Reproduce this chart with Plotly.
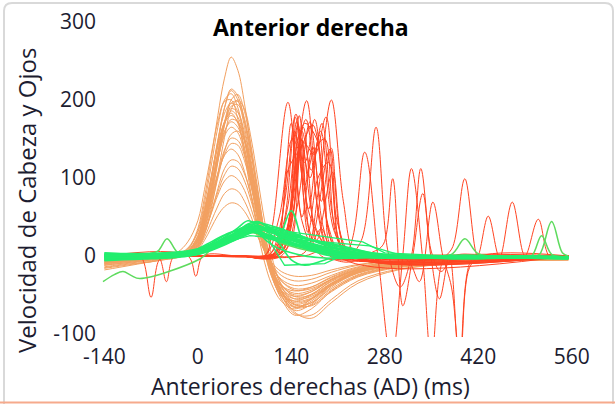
import plotly.graph_objects as go

# ---------------- data ----------------
x_ticks = [-140, 0, 140, 280, 420, 560]
y_ticks = [-100, 0, 100, 200, 300]

# head velocity (orange) – common time base
t_head = [-140, -100, -60, -30, -15, 0, 10, 20, 30, 40, 50, 60, 70, 80, 90, 100,
          110, 125, 145, 170, 200, 240, 300, 380, 470, 555]
head_01 = [-8, -5, -3, 2, 8, 35, 75, 125, 180, 228, 255, 238, 195, 135, 72, 18, -22, -55, -76, -68, -45, -25, -14, -9, -6, -5]
head_02 = [-12, -8, -4, 0, 5, 22, 52, 95, 145, 190, 212, 200, 165, 115, 62, 15, -20, -50, -70, -62, -40, -22, -12, -8, -6, -4]
head_03 = [-4, -2, 0, 1, 3, 12, 35, 72, 120, 168, 200, 207, 185, 140, 85, 30, -10, -45, -65, -60, -38, -20, -10, -7, -5, -3]
head_04 = [-15, -10, -6, 5, 18, 45, 85, 130, 172, 198, 200, 175, 130, 78, 30, -8, -35, -58, -68, -55, -35, -20, -12, -8, -6, -5]
head_05 = [-6, -4, -2, 1, 6, 25, 58, 100, 148, 183, 196, 185, 152, 105, 55, 10, -22, -48, -62, -56, -36, -19, -11, -7, -4, -3]
head_06 = [-10, -6, -3, 0, 4, 18, 45, 85, 132, 172, 189, 184, 158, 115, 65, 20, -15, -44, -63, -60, -42, -24, -13, -8, -6, -5]
head_07 = [-3, -2, -1, 2, 9, 30, 62, 102, 143, 172, 183, 170, 138, 92, 45, 5, -25, -50, -58, -50, -32, -18, -10, -6, -4, -3]
head_08 = [-18, -12, -6, -2, 3, 15, 40, 78, 122, 158, 175, 172, 150, 110, 62, 18, -14, -40, -55, -52, -36, -21, -12, -8, -5, -4]
head_09 = [-5, -3, -1, 1, 5, 20, 48, 85, 124, 154, 165, 158, 132, 92, 48, 10, -18, -42, -52, -46, -30, -17, -9, -6, -4, -3]
head_10 = [-8, -5, -2, 1, 4, 14, 36, 68, 105, 136, 151, 148, 128, 92, 52, 14, -14, -38, -50, -46, -31, -18, -10, -6, -4, -3]
head_11 = [-4, -2, 0, 2, 6, 20, 44, 75, 106, 129, 137, 130, 108, 75, 38, 6, -18, -38, -45, -40, -27, -15, -8, -5, -3, -2]
head_12 = [-12, -8, -4, -1, 2, 10, 28, 55, 86, 112, 123, 121, 105, 78, 45, 14, -10, -32, -44, -42, -30, -18, -10, -6, -4, -3]
head_13 = [-6, -4, -2, 0, 3, 12, 30, 54, 78, 96, 103, 98, 84, 60, 33, 8, -12, -30, -38, -35, -25, -14, -8, -5, -3, -2]
head_14 = [-3, -2, -1, 1, 3, 10, 24, 44, 64, 80, 86, 83, 70, 50, 27, 6, -10, -25, -32, -30, -21, -12, -7, -4, -3, -2]
head_15 = [-8, -5, -3, -1, 2, 8, 20, 36, 52, 63, 68, 66, 57, 42, 24, 6, -8, -20, -26, -25, -18, -11, -6, -4, -3, -2]
head_16 = [-5, -3, -1, 1, 4, 16, 40, 78, 125, 168, 192, 194, 172, 130, 80, 30, -8, -45, -72, -80, -60, -35, -18, -10, -6, -4]
head_17 = [-9, -6, -3, 1, 6, 24, 55, 98, 148, 190, 214, 205, 172, 122, 68, 20, -15, -46, -66, -63, -44, -26, -14, -9, -6, -4]
head_18 = [-2, -1, 0, 2, 7, 26, 58, 98, 140, 170, 180, 172, 146, 104, 56, 12, -20, -46, -60, -55, -38, -22, -12, -7, -5, -3]
head_19 = [-7, -4, -2, 3, 10, 32, 68, 115, 165, 200, 208, 190, 150, 100, 50, 8, -25, -52, -66, -58, -38, -21, -11, -7, -5, -4]
head_20 = [-11, -7, -4, -1, 2, 10, 28, 60, 105, 152, 188, 200, 188, 150, 98, 45, 2, -38, -62, -64, -46, -27, -15, -9, -6, -5]
head_21 = [-14, -9, -5, 0, 5, 20, 48, 88, 133, 170, 186, 178, 148, 104, 56, 14, -18, -44, -58, -54, -37, -21, -12, -8, -5, -4]
head_22 = [-3, -2, 0, 2, 6, 22, 52, 90, 130, 160, 172, 165, 138, 96, 50, 10, -20, -44, -55, -49, -33, -19, -10, -6, -4, -3]
head_23 = [-9, -6, -3, 0, 3, 13, 34, 64, 100, 134, 156, 160, 148, 115, 72, 28, -6, -36, -52, -50, -35, -20, -11, -7, -4, -3]
head_24 = [-6, -4, -2, 1, 5, 18, 42, 72, 104, 130, 144, 142, 122, 88, 48, 10, -16, -38, -48, -44, -30, -17, -9, -6, -4, -3]
head_25 = [-10, -6, -3, 0, 3, 13, 32, 56, 82, 104, 115, 112, 96, 70, 40, 10, -12, -32, -42, -40, -28, -16, -9, -5, -3, -2]
head_26 = [-16, -11, -6, -2, 3, 16, 42, 82, 130, 172, 196, 198, 176, 132, 80, 28, -12, -50, -74, -76, -56, -32, -17, -10, -6, -5]

# eye velocity (red saccade traces) – each with its own time base
red_01_t = [-140, -100, -84, -70, -57, -40, 0, 60, 100, 112, 135, 156, 170, 185, 200, 225, 260, 350, 555]
red_01_v = [0, 0, -3, -53, -4, 0, 0, 0, 0, 40, 197, 45, 18, 35, 8, 0, -3, 0, 0]
red_02_t = [-140, -60, 0, 60, 110, 125, 142, 163, 182, 198, 222, 260, 400, 555]
red_02_v = [0, 1, 0, 0, 0, 5, 80, 199, 45, 0, -8, 0, -1, 0]
red_03_t = [-140, -70, -58, -47, -36, -10, 60, 150, 165, 180, 200, 218, 236, 260, 320, 555]
red_03_v = [0, 0, -2, -33, -1, 0, 0, 0, 10, 80, 200, 70, 0, -6, 0, 0]
red_04_t = [-140, 60, 160, 180, 200, 225, 250, 271, 290, 307, 320, 337, 350, 366, 382, 400, 419, 435, 452, 471, 490, 510, 528, 555]
red_04_v = [0, 0, 0, 5, 0, 8, 133, -10, -135, 0, 112, -5, -135, -8, 12, 99, 0, 51, -2, 69, 0, 47, -2, 0]
red_05_t = [-140, 60, 120, 138, 155, 175, 200, 225, 245, 267, 285, 303, 320, 334, 349, 362, 377, 392, 410, 430, 470, 555]
red_05_v = [0, 0, 0, 30, 150, 40, 5, 0, 20, 165, 5, -40, 0, 112, 0, -55, 0, -135, -5, 0, -1, 0]
red_06_t = [-140, 0, 100, 130, 146, 165, 185, 215, 240, 262, 278, 292, 307, 322, 337, 350, 364, 385, 420, 555]
red_06_v = [0, 0, 0, 10, 178, 40, 0, -5, 0, 5, 15, 99, -64, 0, 80, 5, -20, 0, 2, 0]
red_07_t = [-140, -15, -3, 8, 60, 100, 118, 135, 152, 170, 198, 216, 240, 270, 300, 317, 332, 352, 367, 380, 393, 407, 425, 555]
red_07_v = [0, 0, -26, 0, 0, 0, 5, 30, 180, 20, 137, 5, -6, 0, 0, -8, -33, 69, 0, -40, -135, -15, 0, 0]
red_08_t = [-140, 60, 105, 128, 145, 160, 172, 187, 202, 222, 250, 555]
red_08_v = [0, 0, 0, 40, 160, 90, 140, 40, 5, 0, -4, 0]
red_09_t = [-140, 60, 110, 138, 158, 178, 202, 222, 250, 555]
red_09_v = [0, 0, 0, 40, 165, 20, 107, 5, 0, 0]
red_10_t = [-140, 60, 100, 122, 142, 160, 175, 192, 210, 235, 555]
red_10_v = [0, 0, 0, 50, 150, 120, 175, 50, 0, -5, 0]
red_11_t = [-140, 60, 115, 140, 160, 178, 195, 215, 240, 555]
red_11_v = [0, 0, 0, 60, 170, 150, 40, 0, -3, 0]
red_12_t = [-140, 60, 108, 130, 148, 165, 180, 196, 215, 240, 555]
red_12_v = [0, 0, 0, 20, 172, 30, 100, 120, 10, 0, 0]
red_13_t = [-140, 60, 112, 134, 150, 166, 182, 200, 225, 555]
red_13_v = [0, 0, 0, 60, 168, 60, 155, 20, 0, 0]
red_14_t = [-140, 60, 120, 142, 156, 170, 186, 205, 230, 555]
red_14_v = [0, 0, 0, 50, 160, 110, 170, 40, 0, 0]
red_15_t = [-140, 60, 110, 132, 147, 162, 180, 200, 225, 555]
red_15_v = [0, 0, 0, 30, 120, 175, 60, 0, -6, 0]
red_16_t = [-140, 60, 115, 136, 152, 168, 184, 205, 230, 555]
red_16_v = [0, 0, 0, 40, 155, 100, 160, 30, 0, 0]
red_17_t = [-140, 60, 105, 125, 140, 156, 172, 190, 210, 240, 555]
red_17_v = [0, 0, 0, 45, 170, 50, 130, 150, 20, -4, 0]
red_18_t = [-140, 60, 118, 140, 158, 175, 192, 210, 235, 555]
red_18_v = [0, 0, 0, 20, 145, 130, 178, 40, 0, 0]
red_19_t = [-140, 60, 110, 130, 147, 165, 185, 205, 555]
red_19_v = [0, 0, 0, 70, 182, 60, 20, 0, 0]
red_20_t = [-140, 60, 125, 148, 168, 185, 200, 220, 250, 555]
red_20_v = [0, 0, 0, 60, 172, 70, 138, 10, -5, 0]
red_21_t = [-140, 60, 112, 135, 155, 172, 190, 210, 555]
red_21_v = [0, 0, 0, 110, 140, 168, 80, 0, 0]

# eye velocity (green) – common time base
t_eye = [-140, -110, -80, -50, -20, 0, 20, 40, 60, 75, 90, 105, 120, 140, 160, 180,
         200, 230, 260, 300, 350, 400, 450, 500, 555]
eye_01 = [-2, -1, 0, 1, 2, 5, 12, 20, 30, 40, 38, 32, 28, 22, 16, 11, 6, 2, 0, -1, -2, -1, -2, -2, -3]
eye_02 = [0, 1, -1, 2, 3, 6, 14, 24, 36, 45, 40, 30, 22, 16, 12, 8, 4, 1, -1, -2, -1, -2, -1, -2, -2]
eye_03 = [-5, -4, -3, -2, 0, 3, 9, 16, 26, 33, 36, 34, 30, 26, 22, 18, 14, 8, 3, 0, -1, -2, -2, -3, -3]
eye_04 = [2, 2, 1, 3, 5, 8, 16, 26, 34, 38, 30, 18, 10, 4, 0, -2, -3, -3, -2, -2, -2, -1, -1, -1, -2]
eye_05 = [-3, -2, -2, 0, 1, 4, 10, 18, 28, 36, 42, 40, 36, 30, 24, 18, 12, 6, 2, 0, -1, -1, -2, -2, -2]
eye_06 = [1, 0, 1, 1, 3, 7, 13, 21, 29, 34, 33, 26, 18, -5, -12, -8, -3, -1, -1, -2, -2, -3, -2, -2, -3]
eye_07 = [-1, -1, 0, 2, 4, 9, 18, 27, 33, 37, 35, 31, 28, 25, 22, 19, 16, 10, 4, 0, -2, -2, -1, -2, -2]
eye_08 = [0, 0, -1, 0, 2, 5, 10, 17, 25, 30, 31, 27, 22, 17, 13, 9, 5, 2, 0, -1, -1, -1, -2, -1, -1]
eye_09 = [-2, -1, -1, 1, 2, 5, 11, 19, 27, 33, 30, 22, 22, 58, 14, 4, 0, -2, -2, -2, -1, -2, -2, -2, -2]
eye_10 = [-4, -3, -2, -1, 1, 4, 9, 15, 22, 28, 32, 33, 31, 27, 23, 19, 15, 9, 4, 1, -1, -2, -2, -2, -3]
eye_11 = [3, 2, 2, 3, 4, 7, 12, 19, 26, 31, 29, 24, 19, 14, 10, 6, 3, 0, -1, -1, -2, -2, -1, -2, -2]
eye_12 = [-1, 0, 0, 1, 3, 6, 13, 22, 32, 41, 44, 36, 26, 18, 12, 7, 3, 0, -2, -2, -2, -1, -2, -2, -2]
eye_13 = [1, 2, 1, 2, 4, 7, 14, 23, 31, 36, 37, 33, 27, 20, 14, 9, 5, 1, -1, -2, -3, -2, -3, -3, -4]
eye_14 = [-3, -3, -2, -1, 0, 2, 7, 14, 22, 28, 34, 36, 33, 28, 23, 17, 11, 5, 1, -1, -1, -1, -1, -1, -1]
eye_15 = [4, 3, 3, 4, 6, 9, 15, 22, 28, 32, 30, 25, 20, 15, 10, 6, 2, -1, -2, -3, -3, -4, -3, -3, -4]
eye_16 = [-6, -5, -4, -3, -1, 2, 8, 16, 25, 32, 35, 33, 29, 24, 19, 14, 10, 5, 1, -1, -2, -3, -3, -3, -3]
eye_17 = [2, 1, 2, 2, 3, 6, 12, 20, 29, 35, 39, 35, 30, 24, 18, 13, 8, 3, 0, 0, 0, 1, 0, 0, -1]
eye_18 = [-1, -2, -1, -1, 1, 4, 10, 18, 27, 34, 36, 32, 26, 20, 15, 11, 7, 3, 1, 0, -1, -1, 0, -1, -1]
eye_19 = [0, 1, 0, 1, 2, 4, 9, 16, 24, 30, 34, 37, 35, 30, 24, 18, 12, 6, 2, 0, -2, -2, -3, -2, -3]
eye_20 = [-2, -2, -3, -1, 1, 5, 12, 21, 30, 38, 43, 38, 30, 22, 15, 9, 4, 0, -2, -3, -3, -2, -2, -3, -3]

# lighter green traces with their own time base
lg_01_t = [-142, -125, -112, -100, -87, 3, 20, 40, 60, 80, 100, 120, 150, 200, 250, 300, 400, 555]
lg_01_v = [-33, -24, -20, -25, -29, -4, 8, 16, 24, 30, 28, 22, 12, 3, 0, -1, -2, -2]
lg_02_t = [-140, -110, -80, -60, -46, -32, -20, 0, 20, 40, 60, 80, 100, 120, 150, 180, 220, 260, 320, 400, 500, 555]
lg_02_v = [-5, -3, 2, 6, 22, 6, 0, 3, 10, 18, 28, 35, 34, 28, 18, 9, 2, -2, -2, -3, -2, -2]
lg_03_t = [-140, -80, -20, 0, 30, 60, 80, 100, 130, 170, 210, 260, 320, 380, 400, 420, 470, 555]
lg_03_v = [0, 1, 2, 4, 14, 26, 30, 25, 15, 6, 1, -1, -2, 2, 22, 3, -1, -2]
lg_04_t = [-140, -60, 0, 30, 60, 85, 110, 140, 180, 220, 280, 350, 420, 480, 500, 515, 530, 555]
lg_04_v = [-2, 0, 3, 12, 24, 32, 26, 16, 7, 1, -2, -3, -2, -2, 0, 26, 2, -1]
lg_05_t = [-140, -60, 0, 30, 60, 90, 120, 150, 200, 250, 320, 420, 500, 512, 530, 546, 555]
lg_05_v = [1, 2, 5, 14, 26, 36, 30, 20, 8, 2, -1, -2, -1, 2, 44, 4, 0]

# green traces with straight segments
gs_01_t = [-140, -80, -20, 0, 30, 60, 78, 257, 300, 400, 555]
gs_01_v = [-1, 0, 2, 5, 13, 22, 26, 13, 2, -2, -2]
gs_02_t = [-140, -80, -20, 0, 30, 60, 78, 247, 280, 400, 555]
gs_02_v = [1, 1, 3, 6, 15, 28, 38, 18, 4, -1, -2]
gs_03_t = [-140, -60, 0, 40, 80, 105, 130, 190, 210, 260, 400, 555]
gs_03_v = [-2, 0, 4, 18, 34, 22, -12, -10, -2, 0, -2, -2]

head_series = [head_01, head_02, head_03, head_04, head_05, head_06, head_07, head_08, head_09,
               head_10, head_11, head_12, head_13, head_14, head_15, head_16, head_17, head_18,
               head_19, head_20, head_21, head_22, head_23, head_24, head_25, head_26]
red_series = [(red_01_t, red_01_v), (red_02_t, red_02_v), (red_03_t, red_03_v), (red_04_t, red_04_v),
              (red_05_t, red_05_v), (red_06_t, red_06_v), (red_07_t, red_07_v), (red_08_t, red_08_v),
              (red_09_t, red_09_v), (red_10_t, red_10_v), (red_11_t, red_11_v), (red_12_t, red_12_v),
              (red_13_t, red_13_v), (red_14_t, red_14_v), (red_15_t, red_15_v), (red_16_t, red_16_v),
              (red_17_t, red_17_v), (red_18_t, red_18_v), (red_19_t, red_19_v), (red_20_t, red_20_v),
              (red_21_t, red_21_v)]
eye_series = [eye_01, eye_02, eye_03, eye_04, eye_05, eye_06, eye_07, eye_08, eye_09, eye_10,
              eye_11, eye_12, eye_13, eye_14, eye_15, eye_16, eye_17, eye_18, eye_19, eye_20]
lg_series = [(lg_01_t, lg_01_v), (lg_02_t, lg_02_v), (lg_03_t, lg_03_v), (lg_04_t, lg_04_v), (lg_05_t, lg_05_v)]
gs_series = [(gs_01_t, gs_01_v), (gs_02_t, gs_02_v), (gs_03_t, gs_03_v)]

# ---------------- style / layout ----------------
W, H = 615, 404
L, R, T, B = 101, 40, 22, 67
X_RANGE = [-145, 565]
Y_RANGE = [-104, 300]
ORANGE = "#F2A060"
RED = "#FF4422"
GREEN = "#22EE6E"
LGREEN = "#5EDB5E"
FONT = "Open Sans"
TXT = "#1c1c30"

pw, ph = W - L - R, H - T - B


def px_x(px):
    return (px - L) / pw


def px_y(py):
    return (H - B - py) / ph


fig = go.Figure()
for v in head_series:
    fig.add_trace(go.Scatter(x=t_head, y=v, mode="lines", line=dict(color=ORANGE, width=1, shape="spline"),
                             hoverinfo="skip", showlegend=False))
for t, v in red_series:
    fig.add_trace(go.Scatter(x=t, y=v, mode="lines", line=dict(color=RED, width=1, shape="spline"),
                             hoverinfo="skip", showlegend=False))
for t, v in lg_series:
    fig.add_trace(go.Scatter(x=t, y=v, mode="lines", line=dict(color=LGREEN, width=1.5, shape="spline"),
                             hoverinfo="skip", showlegend=False))
for t, v in gs_series:
    fig.add_trace(go.Scatter(x=t, y=v, mode="lines", line=dict(color=GREEN, width=1.3, shape="linear"),
                             hoverinfo="skip", showlegend=False))
for v in eye_series:
    fig.add_trace(go.Scatter(x=t_eye, y=v, mode="lines", line=dict(color=GREEN, width=1.6, shape="spline"),
                             hoverinfo="skip", showlegend=False))

fig.update_layout(
    width=W, height=H,
    margin=dict(l=L, r=R, t=T, b=B, autoexpand=False),
    paper_bgcolor="white", plot_bgcolor="white",
    font=dict(family=FONT, size=21, color=TXT),
    xaxis=dict(range=X_RANGE, tickvals=x_ticks, ticktext=[str(v) for v in x_ticks],
               showgrid=False, zeroline=False, showline=False, ticks="",
               ticklabelstandoff=5, tickfont=dict(size=21, color=TXT, family=FONT)),
    yaxis=dict(range=Y_RANGE, tickvals=y_ticks, ticktext=[str(v) for v in y_ticks],
               showgrid=False, zeroline=False, showline=False, ticks="",
               ticklabelstandoff=4, tickfont=dict(size=21, color=TXT, family=FONT)),
    annotations=[
        dict(text="<b>Anterior derecha</b>", xref="paper", yref="paper", x=px_x(311), y=px_y(27),
             xanchor="center", yanchor="middle", showarrow=False, font=dict(size=23, color="black", family=FONT)),
        dict(text="Anteriores derechas (AD) (ms)", xref="paper", yref="paper", x=px_x(310), y=px_y(386),
             xanchor="center", yanchor="middle", showarrow=False, font=dict(size=23, color=TXT, family=FONT)),
        dict(text="Velocidad de Cabeza y Ojos", xref="paper", yref="paper", x=px_x(26), y=px_y(201),
             xanchor="center", yanchor="middle", textangle=-90, showarrow=False,
             font=dict(size=24, color=TXT, family=FONT)),
    ],
    shapes=[
        dict(type="path", xref="paper", yref="paper", layer="below",
             path=(f"M {px_x(4)},{px_y(404)} L {px_x(4)},{px_y(11)} Q {px_x(4)},{px_y(3)} {px_x(12)},{px_y(3)} "
                   f"L {px_x(605)},{px_y(3)} Q {px_x(613)},{px_y(3)} {px_x(613)},{px_y(11)} L {px_x(613)},{px_y(404)}"),
             line=dict(color="#d9d9d9", width=2)),
        dict(type="line", xref="paper", yref="paper", x0=px_x(0), x1=px_x(615), y0=px_y(402.5), y1=px_y(402.5),
             line=dict(color="#F6AA8C", width=2)),
    ],
)

fig.write_html("out.html")
